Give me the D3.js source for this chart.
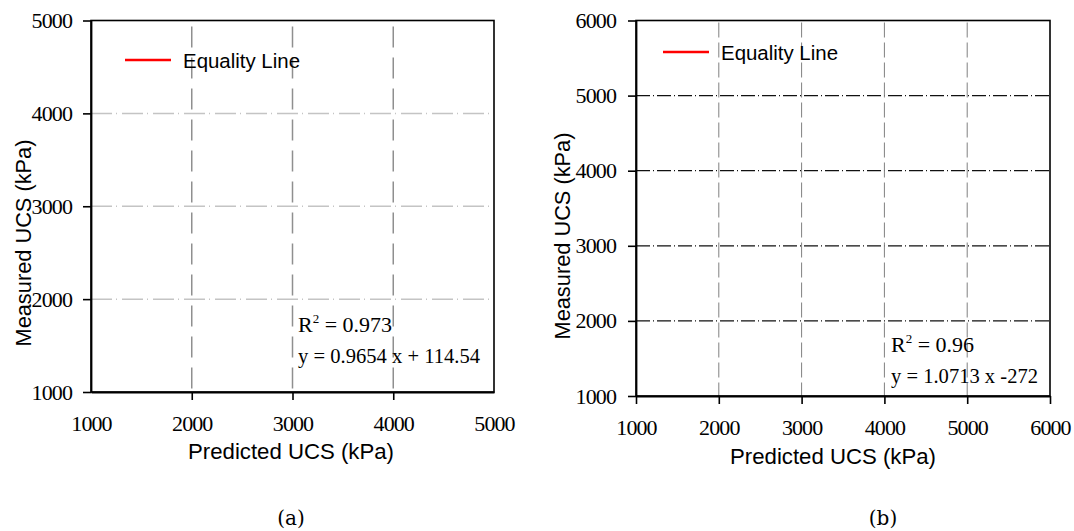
<!DOCTYPE html>
<html>
<head>
<meta charset="utf-8">
<script src="https://cdn.jsdelivr.net/npm/d3@7"></script>
<style>
  body { margin: 0; background: #fff; }
  svg { display: block; }
  .tick text { font-family: "Liberation Serif", "Times New Roman", serif; font-size: 22px; fill: #000; letter-spacing: -0.9px; }
  .title { font-family: "Liberation Sans", Arial, sans-serif; font-size: 21.5px; fill: #000; }
  .legend { font-family: "Liberation Sans", Arial, sans-serif; font-size: 20.5px; fill: #000; }
  .note { font-family: "Liberation Serif", "Times New Roman", serif; font-size: 22px; fill: #000; }
  .panel { font-family: "DejaVu Serif", serif; font-size: 20px; fill: #000; }
</style>
</head>
<body>
<svg id="chart" width="1074" height="531"></svg>
<script>
// data
var panelNames = ["(a)", "(b)"];
var xTicksA = [1000, 2000, 3000, 4000, 5000];
var yTicksA = [1000, 2000, 3000, 4000, 5000];
var gridA = [2000, 3000, 4000];
var xTicksB = [1000, 2000, 3000, 4000, 5000, 6000];
var yTicksB = [1000, 2000, 3000, 4000, 5000, 6000];
var gridB = [2000, 3000, 4000, 5000];
var r2Values = ["0.973", "0.96"];
var equations = ["y = 0.9654 x + 114.54", "y = 1.0713 x -272"];
var legendLabel = "Equality Line";
var xTitle = "Predicted UCS (kPa)";
var yTitle = "Measured UCS (kPa)";

var svg = d3.select("#chart");

function drawPanel(p) {
  var x = d3.scaleLinear().domain([p.xTicks[0], p.xTicks[p.xTicks.length - 1]]).range([p.left, p.right]);
  var y = d3.scaleLinear().domain([p.yTicks[0], p.yTicks[p.yTicks.length - 1]]).range([p.bottom, p.top]);
  var g = svg.append("g");

  // grid
  g.selectAll("line.hgrid").data(p.grid.filter(function(d) { return d <= y.domain()[1]; }))
    .enter().append("line")
      .attr("x1", p.left).attr("x2", p.right)
      .attr("y1", function(d) { return y(d); }).attr("y2", function(d) { return y(d); })
      .attr("stroke", p.hColor).attr("stroke-width", p.hWidth)
      .attr("stroke-dasharray", p.hDash);
  g.selectAll("line.vgrid").data(p.grid.filter(function(d) { return d <= x.domain()[1]; }))
    .enter().append("line")
      .attr("y1", p.top).attr("y2", p.bottom)
      .attr("x1", function(d) { return x(d); }).attr("x2", function(d) { return x(d); })
      .attr("stroke", p.vColor).attr("stroke-width", p.vWidth)
      .attr("stroke-dasharray", p.vDash)
      .attr("stroke-dashoffset", p.vOffset);

  // frame
  g.append("rect")
    .attr("x", p.left).attr("y", p.top)
    .attr("width", p.right - p.left).attr("height", p.bottom - p.top)
    .attr("fill", "none").attr("stroke", "#000").attr("stroke-width", 1.6);

  var ax = g.append("g")
    .attr("transform", "translate(0," + p.bottom + ")")
    .call(d3.axisBottom(x).tickValues(p.xTicks).tickSize(8).tickSizeOuter(0).tickPadding(15).tickFormat(d3.format("d")));
  var ay = g.append("g")
    .attr("transform", "translate(" + p.left + ",0)")
    .call(d3.axisLeft(y).tickValues(p.yTicks).tickSize(8).tickSizeOuter(0).tickPadding(p.yPad).tickFormat(d3.format("d")));
  [ax, ay].forEach(function(a) {
    a.select(".domain").attr("stroke", "#000").attr("stroke-width", 1.8);
    a.selectAll(".tick line").attr("stroke", "#000").attr("stroke-width", 1.6);
    a.selectAll(".tick text").attr("font-family", null).attr("font-size", null);
  });
  if (p.hideEndX) {
    ax.selectAll(".tick line").filter(function(d, i) { return i == 0 || i == p.xTicks.length - 1; }).remove();
  }

  // titles
  g.append("text").attr("class", "title")
    .attr("x", p.xTitleX).attr("y", p.xTitleY)
    .attr("text-anchor", "middle")
    .attr("textLength", 206).attr("lengthAdjust", "spacingAndGlyphs")
    .text(xTitle);
  g.append("text").attr("class", "title")
    .attr("transform", "translate(" + p.yTitleX + "," + p.yTitleY + ") rotate(-90)")
    .attr("text-anchor", "middle")
    .attr("textLength", 207).attr("lengthAdjust", "spacingAndGlyphs")
    .text(yTitle);

  // legend
  g.append("line")
    .attr("x1", p.legX).attr("x2", p.legX + 46)
    .attr("y1", p.legY).attr("y2", p.legY)
    .attr("stroke", "#ff0000").attr("stroke-width", 2.5);
  g.append("text").attr("class", "legend")
    .attr("x", p.legX + 58).attr("y", p.legY + 8)
    .attr("textLength", 117).attr("lengthAdjust", "spacingAndGlyphs")
    .text(legendLabel);

  // fit annotation
  var r2 = g.append("text").attr("class", "note")
    .attr("x", p.noteX).attr("y", p.noteY);
  r2.append("tspan").text("R");
  r2.append("tspan").attr("font-size", 13).attr("dy", -9).text("2");
  r2.append("tspan").attr("dy", 9).text(" = " + p.r2);
  g.append("text").attr("class", "note")
    .attr("x", p.noteX).attr("y", p.noteY + 31)
    .attr("textLength", p.eqLen).attr("lengthAdjust", "spacingAndGlyphs")
    .text(p.eq);

  g.append("text").attr("class", "panel")
    .attr("x", p.panelX).attr("y", 525)
    .attr("text-anchor", "middle")
    .text(p.name);
}

drawPanel({
  name: panelNames[0], xTicks: xTicksA, yTicks: yTicksA, grid: gridA,
  left: 91, right: 494, top: 20.5, bottom: 392,
  hColor: "#c4c4c4", hWidth: 1.5, hDash: "21,4,1,5",
  vColor: "#8f8f8f", vWidth: 1.5, vDash: "21,10", vOffset: -6,
  yPad: 11, hideEndX: true,
  xTitleX: 291, xTitleY: 459, yTitleX: 31, yTitleY: 243,
  legX: 125, legY: 60,
  noteX: 298, noteY: 332, r2: r2Values[0], eq: equations[0], eqLen: 182,
  panelX: 291
});

drawPanel({
  name: panelNames[1], xTicks: xTicksB, yTicks: yTicksB, grid: gridB,
  left: 636, right: 1050, top: 20.5, bottom: 396,
  hColor: "#111", hWidth: 1.2, hDash: "14,3,1,3",
  vColor: "#808080", vWidth: 1, vDash: "15,5", vOffset: -2,
  yPad: 12, hideEndX: false,
  xTitleX: 833, xTitleY: 464, yTitleX: 570, yTitleY: 236,
  legX: 663, legY: 52,
  noteX: 891, noteY: 352, r2: r2Values[1], eq: equations[1], eqLen: 147,
  panelX: 883
});
</script>
</body>
</html>
